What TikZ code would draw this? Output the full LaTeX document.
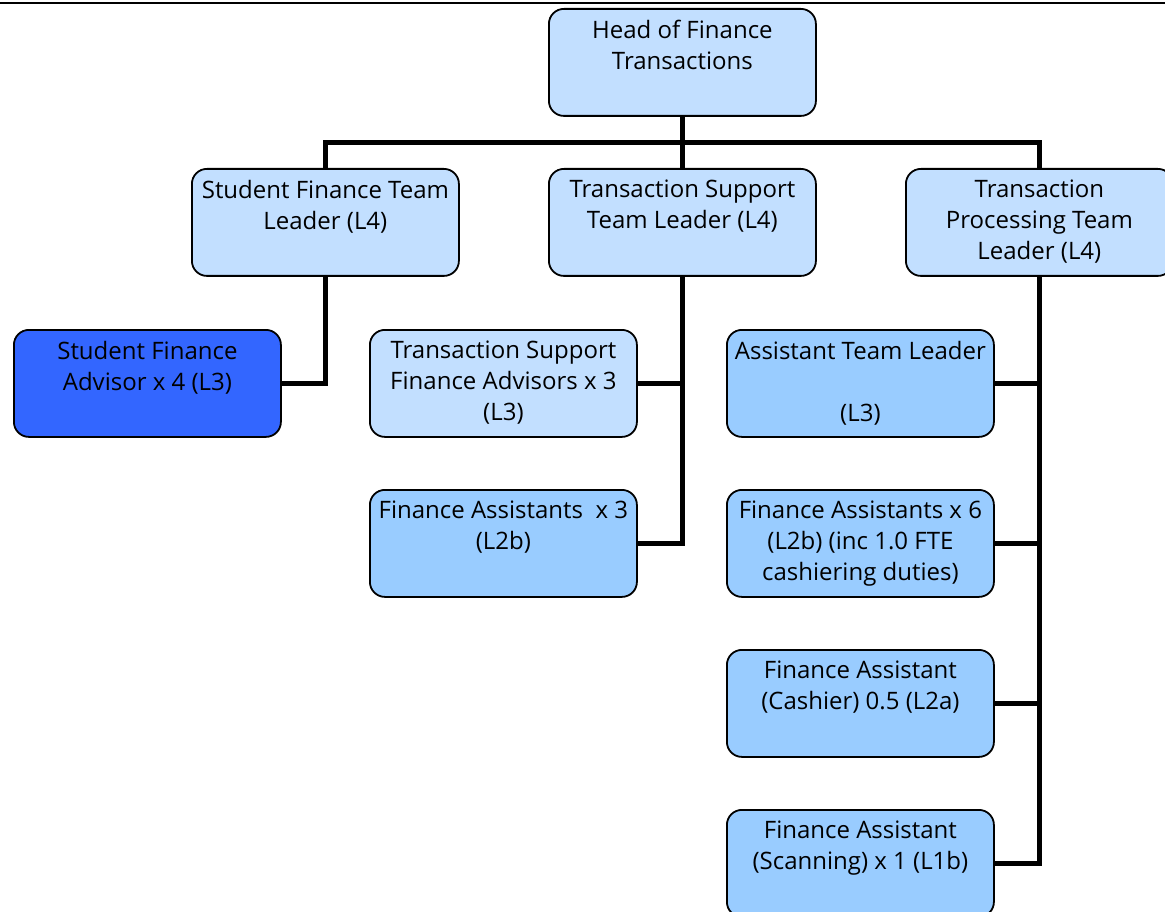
\documentclass[tikz,border=0pt]{standalone}
\usepackage{fontspec}
\setmainfont{Open Sans}
\definecolor{lightbox}{HTML}{C2DFFF}
\definecolor{midbox}{HTML}{99CCFF}
\definecolor{darkbox}{HTML}{3366FF}
\tikzset{
  orgbox/.style={draw=black, line width=1.8pt, rounded corners=15pt, inner sep=0pt,
    minimum width=267pt, minimum height=107pt, anchor=north west},
  link/.style={draw=black, line width=5pt},
}
\newcommand{\boxtext}[1]{\parbox[c][107pt][t]{264pt}{\centering\fontsize{24}{31}\selectfont\vspace*{11pt}#1}}
\begin{document}
\begin{tikzpicture}[x=1pt,y=-1pt]
\useasboundingbox (0,0) rectangle (1165,912);
\draw[line width=2pt] (0,3) -- (1165,3);
\node[orgbox, fill=lightbox] (head) at (548,8) {\boxtext{Head of Finance\\Transactions}};
\node[orgbox, fill=lightbox] (sftl) at (191,168) {\boxtext{Student Finance Team\\Leader (L4)}};
\node[orgbox, fill=lightbox] (tstl) at (548,168) {\boxtext{Transaction Support\\Team Leader (L4)}};
\node[orgbox, fill=lightbox] (tptl) at (905,168) {\boxtext{Transaction\\Processing Team\\Leader (L4)}};
\node[orgbox, fill=darkbox] (sfa) at (13,329) {\boxtext{Student Finance\\Advisor x 4 (L3)}};
\node[orgbox, fill=lightbox] (tsfa) at (369,329) {\boxtext{Transaction Support\\Finance Advisors x 3\\(L3)}};
\node[orgbox, fill=midbox] (fa3) at (369,489) {\boxtext{Finance Assistants~ x 3\\(L2b)}};
\node[orgbox, fill=midbox] (atl) at (726,329) {\boxtext{Assistant Team Leader\\[31pt](L3)}};
\node[orgbox, fill=midbox] (fa6) at (726,489) {\boxtext{Finance Assistants x 6\\(L2b) (inc 1.0 FTE\\cashiering duties)}};
\node[orgbox, fill=midbox] (fac) at (726,649) {\boxtext{Finance Assistant\\(Cashier) 0.5 (L2a)}};
\node[orgbox, fill=midbox] (fas) at (726,809) {\boxtext{Finance Assistant\\(Scanning) x 1 (L1b)}};
\coordinate (bar) at (681.5,143);
% top level
\draw[link] (head.south) -- (tstl.north);
\draw[link] (sftl.north) -- (sftl.north |- bar) -- (tptl.north |- bar) -- (tptl.north);
% student finance
\draw[link] (sftl.south) |- (sfa.east);
% transaction support
\draw[link] (tstl.south) |- (fa3.east);
\draw[link] (tsfa.east) -- (tsfa.east -| tstl.south);
% transaction processing
\draw[link] (tptl.south) |- (fas.east);
\draw[link] (atl.east) -- (atl.east -| tptl.south);
\draw[link] (fa6.east) -- (fa6.east -| tptl.south);
\draw[link] (fac.east) -- (fac.east -| tptl.south);
\end{tikzpicture}
\end{document}
